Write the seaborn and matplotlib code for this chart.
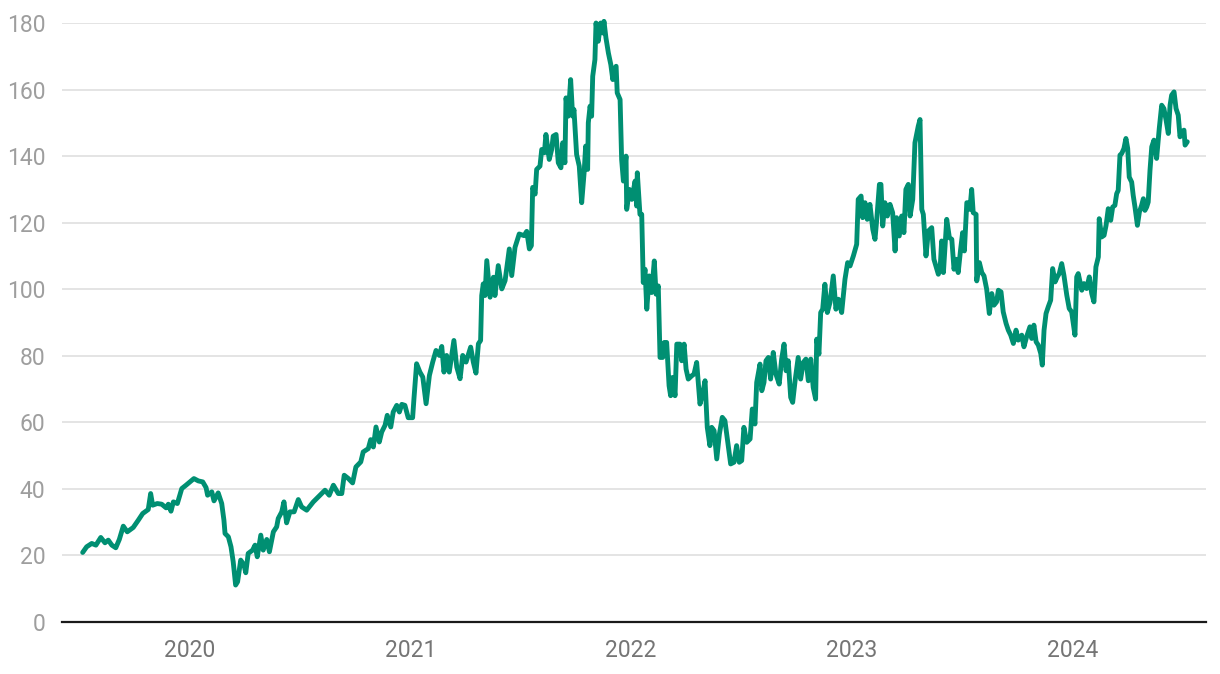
import numpy as np
import pandas as pd
import matplotlib
matplotlib.use("Agg")
import matplotlib.pyplot as plt
import seaborn as sns

# time as decimal years, price values
years = [
    2019.516, 2019.534, 2019.557, 2019.576, 2019.598, 2019.617, 2019.632, 2019.648, 2019.666, 2019.682,
    2019.700, 2019.718, 2019.745, 2019.768, 2019.788, 2019.813, 2019.824, 2019.833, 2019.854, 2019.874,
    2019.894, 2019.904, 2019.916, 2019.927, 2019.945, 2019.965, 2019.984, 2020.002, 2020.020, 2020.040,
    2020.060, 2020.075, 2020.082, 2020.101, 2020.111, 2020.130, 2020.146, 2020.156, 2020.161, 2020.176,
    2020.188, 2020.198, 2020.209, 2020.218, 2020.232, 2020.247, 2020.255, 2020.266, 2020.286, 2020.297,
    2020.307, 2020.323, 2020.334, 2020.350, 2020.362, 2020.380, 2020.395, 2020.402, 2020.418, 2020.428,
    2020.440, 2020.455, 2020.474, 2020.493, 2020.508, 2020.531, 2020.561, 2020.591, 2020.614, 2020.633,
    2020.652, 2020.674, 2020.690, 2020.701, 2020.720, 2020.739, 2020.754, 2020.776, 2020.787, 2020.810,
    2020.821, 2020.833, 2020.845, 2020.860, 2020.871, 2020.886, 2020.896, 2020.912, 2020.923, 2020.939,
    2020.951, 2020.962, 2020.976, 2020.991, 2021.011, 2021.017, 2021.029, 2021.044, 2021.057, 2021.072,
    2021.087, 2021.102, 2021.117, 2021.132, 2021.143, 2021.153, 2021.165, 2021.177, 2021.198, 2021.211,
    2021.226, 2021.238, 2021.253, 2021.274, 2021.286, 2021.298, 2021.309, 2021.319, 2021.324, 2021.331,
    2021.339, 2021.347, 2021.362, 2021.377, 2021.384, 2021.399, 2021.415, 2021.430, 2021.449, 2021.460,
    2021.475, 2021.494, 2021.516, 2021.528, 2021.540, 2021.549, 2021.555, 2021.566, 2021.573, 2021.588,
    2021.596, 2021.608, 2021.615, 2021.630, 2021.641, 2021.648, 2021.661, 2021.671, 2021.683, 2021.691,
    2021.701, 2021.706, 2021.716, 2021.727, 2021.736, 2021.742, 2021.754, 2021.766, 2021.777, 2021.788,
    2021.795, 2021.804, 2021.807, 2021.815, 2021.822, 2021.827, 2021.837, 2021.842, 2021.852, 2021.863,
    2021.872, 2021.878, 2021.887, 2021.898, 2021.909, 2021.918, 2021.923, 2021.933, 2021.938, 2021.951,
    2021.958, 2021.966, 2021.978, 2021.981, 2021.993, 2022.004, 2022.019, 2022.026, 2022.029, 2022.041,
    2022.049, 2022.056, 2022.064, 2022.072, 2022.083, 2022.094, 2022.106, 2022.114, 2022.124, 2022.132,
    2022.144, 2022.151, 2022.162, 2022.173, 2022.180, 2022.189, 2022.200, 2022.208, 2022.222, 2022.230,
    2022.241, 2022.250, 2022.260, 2022.276, 2022.286, 2022.298, 2022.313, 2022.325, 2022.336, 2022.346,
    2022.358, 2022.366, 2022.377, 2022.389, 2022.401, 2022.414, 2022.426, 2022.441, 2022.452, 2022.467,
    2022.479, 2022.491, 2022.502, 2022.512, 2022.525, 2022.540, 2022.550, 2022.562, 2022.570, 2022.585,
    2022.593, 2022.603, 2022.612, 2022.623, 2022.633, 2022.645, 2022.657, 2022.672, 2022.683, 2022.694,
    2022.703, 2022.713, 2022.724, 2022.733, 2022.744, 2022.758, 2022.769, 2022.781, 2022.793, 2022.804,
    2022.815, 2022.826, 2022.837, 2022.842, 2022.852, 2022.860, 2022.869, 2022.879, 2022.890, 2022.902,
    2022.917, 2022.929, 2022.940, 2022.955, 2022.970, 2022.982, 2022.993, 2023.008, 2023.023, 2023.030,
    2023.043, 2023.050, 2023.061, 2023.071, 2023.083, 2023.096, 2023.106, 2023.114, 2023.126, 2023.133,
    2023.141, 2023.151, 2023.162, 2023.174, 2023.186, 2023.197, 2023.204, 2023.216, 2023.227, 2023.237,
    2023.246, 2023.257, 2023.265, 2023.277, 2023.287, 2023.302, 2023.310, 2023.318, 2023.325, 2023.337,
    2023.348, 2023.363, 2023.373, 2023.382, 2023.393, 2023.401, 2023.408, 2023.416, 2023.431, 2023.443,
    2023.454, 2023.464, 2023.473, 2023.483, 2023.494, 2023.503, 2023.511, 2023.522, 2023.529, 2023.536,
    2023.544, 2023.551, 2023.564, 2023.567, 2023.579, 2023.590, 2023.600, 2023.612, 2023.624, 2023.635,
    2023.645, 2023.657, 2023.665, 2023.677, 2023.687, 2023.700, 2023.710, 2023.721, 2023.733, 2023.745,
    2023.755, 2023.771, 2023.781, 2023.793, 2023.808, 2023.816, 2023.826, 2023.836, 2023.846, 2023.857,
    2023.864, 2023.872, 2023.881, 2023.891, 2023.902, 2023.911, 2023.922, 2023.932, 2023.941, 2023.952,
    2023.962, 2023.975, 2023.986, 2023.997, 2024.012, 2024.020, 2024.027, 2024.043, 2024.053, 2024.065,
    2024.077, 2024.088, 2024.098, 2024.107, 2024.118, 2024.122, 2024.133, 2024.144, 2024.153, 2024.163,
    2024.174, 2024.183, 2024.193, 2024.201, 2024.208, 2024.216, 2024.224, 2024.234, 2024.243, 2024.251,
    2024.258, 2024.269, 2024.276, 2024.284, 2024.295, 2024.304, 2024.314, 2024.322, 2024.329, 2024.337,
    2024.344, 2024.352, 2024.360, 2024.370, 2024.382, 2024.394, 2024.405, 2024.415, 2024.425, 2024.435,
    2024.443, 2024.450, 2024.461, 2024.470, 2024.480, 2024.488, 2024.496, 2024.506, 2024.511, 2024.521,
]
prices = [
    20.9, 22.6, 23.6, 23.1, 25.4, 23.8, 24.6, 23.1, 22.3, 24.8,
    28.8, 27.1, 28.4, 30.6, 32.6, 33.8, 38.6, 35.1, 35.6, 35.4,
    34.3, 35.4, 33.3, 36.1, 35.6, 40.1, 41.1, 42.1, 43.1, 42.4,
    42.1, 40.4, 38.1, 39.1, 36.4, 38.8, 35.6, 30.6, 26.6, 25.6,
    22.6, 18.1, 11.1, 12.1, 18.6, 17.1, 14.8, 20.6, 21.6, 23.1,
    19.6, 26.1, 21.6, 24.8, 21.1, 27.1, 28.6, 31.1, 33.1, 36.1,
    29.8, 33.1, 33.1, 36.8, 34.6, 33.6, 36.1, 38.1, 39.6, 38.1,
    41.1, 38.6, 38.6, 44.1, 43.1, 41.8, 46.6, 48.1, 51.1, 52.1,
    54.8, 52.6, 58.6, 54.1, 57.1, 59.1, 62.1, 58.6, 63.1, 65.1,
    63.1, 65.4, 65.1, 61.4, 61.4, 67.1, 77.6, 75.1, 73.6, 65.6,
    74.1, 78.1, 81.6, 80.1, 82.8, 75.1, 80.1, 75.1, 84.6, 76.6,
    73.1, 80.1, 78.1, 82.6, 78.1, 74.8, 83.6, 84.6, 98.1, 101.6,
    98.1, 108.6, 97.6, 103.6, 98.1, 107.1, 100.1, 102.6, 112.1, 104.1,
    112.6, 116.6, 116.1, 117.4, 112.1, 113.1, 130.6, 128.6, 136.0, 137.0,
    142.0, 141.0, 146.5, 139.0, 142.0, 146.0, 146.5, 138.0, 136.5, 144.0,
    138.0, 157.5, 152.0, 163.0, 152.0, 154.0, 140.5, 137.0, 126.0, 135.0,
    143.0, 136.0, 150.0, 155.0, 152.0, 164.0, 169.0, 180.0, 174.5, 180.0,
    177.0, 180.5, 175.5, 171.0, 167.5, 163.0, 166.0, 167.0, 159.0, 157.0,
    139.0, 132.5, 140.0, 124.0, 130.0, 127.0, 132.5, 125.0, 135.0, 122.5,
    122.5, 102.0, 106.0, 94.0, 104.0, 99.0, 108.5, 98.5, 101.0, 79.5,
    79.5, 84.0, 84.0, 71.0, 68.0, 73.5, 68.0, 83.5, 83.5, 78.5,
    83.5, 76.0, 73.0, 74.0, 74.5, 78.0, 65.5, 68.5, 72.5, 58.5,
    53.0, 58.5, 57.5, 49.0, 56.5, 61.5, 60.5, 53.0, 47.5, 48.0,
    53.0, 48.0, 48.5, 58.5, 54.0, 55.0, 64.0, 59.5, 72.0, 77.5,
    69.5, 72.0, 78.5, 79.5, 73.0, 81.0, 74.5, 71.5, 79.0, 83.5,
    75.5, 78.5, 67.5, 66.0, 72.5, 79.5, 73.0, 78.0, 79.0, 72.5,
    79.0, 70.5, 67.0, 85.0, 80.5, 93.0, 94.0, 101.5, 93.0, 96.0,
    104.0, 94.0, 97.0, 93.0, 103.0, 108.0, 107.0, 110.0, 113.5, 127.0,
    128.0, 121.5, 126.0, 121.0, 125.5, 118.0, 115.0, 121.0, 131.5, 131.5,
    119.0, 126.0, 122.0, 125.5, 123.0, 111.5, 121.5, 116.0, 122.0, 117.0,
    130.0, 131.5, 122.0, 127.0, 144.0, 149.0, 151.0, 124.0, 122.5, 110.0,
    117.5, 118.5, 109.0, 107.0, 104.5, 106.0, 114.5, 105.0, 121.0, 115.5,
    115.0, 106.0, 109.0, 105.0, 112.0, 117.0, 111.5, 126.0, 126.0, 124.0,
    130.0, 123.0, 122.5, 102.5, 108.0, 105.0, 104.0, 100.0, 92.7, 98.7,
    95.2, 96.2, 99.7, 99.2, 93.2, 89.7, 87.7, 86.2, 83.7, 87.7,
    84.7, 86.2, 82.7, 85.7, 88.7, 85.2, 89.2, 84.2, 83.2, 80.7,
    77.2, 87.7, 92.7, 94.7, 96.7, 106.2, 102.2, 103.7, 104.7, 107.7,
    104.2, 98.2, 94.2, 93.2, 86.2, 103.7, 104.7, 99.7, 101.7, 100.2,
    103.7, 98.7, 96.2, 106.7, 109.7, 121.2, 115.7, 116.2, 119.2, 124.2,
    120.7, 124.7, 125.2, 128.7, 129.7, 140.3, 140.8, 142.3, 145.3, 142.3,
    133.7, 132.2, 128.2, 124.7, 119.2, 123.2, 125.2, 127.2, 123.7, 124.7,
    126.2, 135.7, 142.8, 144.8, 139.3, 148.3, 155.3, 154.3, 150.8, 146.8,
    155.3, 158.3, 159.3, 154.3, 152.3, 145.8, 147.3, 147.8, 143.3, 144.3,
]
year_ticks = [2020, 2021, 2022, 2023, 2024]
year_labels = ["2020", "2021", "2022", "2023", "2024"]
y_ticks = [0, 20, 40, 60, 80, 100, 120, 140, 160, 180]

df = pd.DataFrame({"year": years, "price": prices})

sns.set_theme(style="white")
plt.rcParams["font.family"] = ["Roboto", "DejaVu Sans"]

fig = plt.figure(figsize=(12.2, 6.74), dpi=100)
ax = fig.add_axes([62 / 1220, 1 - 622 / 674, (1206 - 62) / 1220, (622 - 23) / 674])

ax.yaxis.grid(True, color="#e2e2e2", linewidth=1.3)
ax.set_axisbelow(True)

sns.lineplot(data=df, x="year", y="price", ax=ax, color="#008f72",
             linewidth=3.5, sort=False, estimator=None)
for ln in ax.lines:
    ln.set_clip_on(False)
    ln.set_solid_joinstyle("round")
    ln.set_solid_capstyle("round")

ax.set_xlim(2019.4223, 2024.6058)
ax.set_ylim(0, 180)
ax.set_xticks(year_ticks)
ax.set_xticklabels(year_labels)
ax.set_yticks(y_ticks)
ax.set_xlabel("")
ax.set_ylabel("")

for s in ["top", "right", "left"]:
    ax.spines[s].set_visible(False)
ax.spines["bottom"].set_color("#1a1a1a")
ax.spines["bottom"].set_linewidth(1.6)
ax.spines["bottom"].set_zorder(5)

ax.tick_params(axis="y", length=0, pad=12, labelsize=16.5, labelcolor="#9e9e9e")
ax.tick_params(axis="x", length=0, pad=12, labelsize=16.5, labelcolor="#757575")

fig.savefig("out.png", dpi=100)
